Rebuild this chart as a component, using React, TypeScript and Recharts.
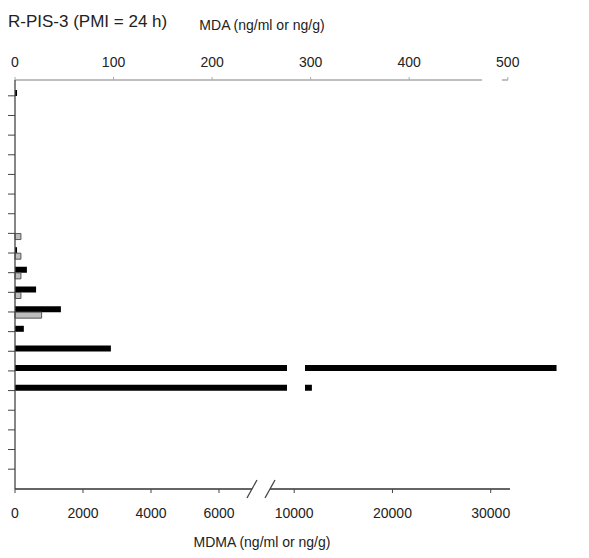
import { BarChart, Bar, XAxis, YAxis } from "recharts"

// samples, top to bottom (no labels shown on the axis)
const SAMPLES = ["1", "2", "3", "4", "5", "6", "7", "8", "9", "10", "11", "12", "13", "14", "15", "16", "17", "18", "19", "20"]
// MDMA (ng/ml or ng/g), bottom axis
const MDMA = [60, 0, 0, 0, 0, 0, 0, 0, 60, 350, 620, 1350, 260, 2820, 36700, 11800, 0, 0, 0, 0]
// MDA (ng/ml or ng/g), top axis
const MDA = [0, 0, 0, 0, 0, 0, 0, 6, 6, 6, 6, 27, 0, 0, 0, 0, 0, 0, 0, 0]

const MDMA_TICKS = [0, 2000, 4000, 6000, 10000, 20000, 30000]
const MDA_TICKS = [0, 100, 200, 300, 400, 500]

// broken MDMA axis: linear up to CUT_LO, then compressed from CUT_HI on
const CUT_LO = 8000
const CUT_HI = 11100
const GAP = 530
const K = 0.289
const toAxis = (v: number) => (v <= CUT_LO ? v : CUT_LO + GAP + (v - CUT_HI) * K)
const BREAK_MARKS = [6970, 7500]

const BOTTOM_MAX = 16030
const TOP_MAX = 553
const TICK_SIZE = 4
const TICK_MARGIN = 15

const data = SAMPLES.map((sample, i) => {
    const v = MDMA[i]
    return {
        sample,
        mdmaLow: Math.min(v, CUT_LO),
        mdmaGap: v > CUT_LO ? GAP : 0,
        mdmaHigh: v > CUT_LO ? (v - CUT_HI) * K : 0,
        mda: MDA[i],
    }
})

const bottomTicks = [...MDMA_TICKS.map(toAxis), ...BREAK_MARKS]

const BottomTick = (props: any) => {
    const { x, y, payload } = props
    const axisY = y - TICK_SIZE - TICK_MARGIN
    if (BREAK_MARKS.includes(payload.value)) {
        return <line x1={x - 5} y1={axisY + 9} x2={x + 5} y2={axisY - 9} stroke="#444" strokeWidth={1.3} />
    }
    const idx = MDMA_TICKS.findIndex((t) => toAxis(t) === payload.value)
    return (
        <g>
            <line x1={x} y1={axisY} x2={x} y2={axisY + TICK_SIZE} stroke="#444" />
            <text x={x} y={y} dy="0.71em" textAnchor="middle" fontSize={14} fill="#222">
                {MDMA_TICKS[idx]}
            </text>
        </g>
    )
}

export default function App() {
    return (
        <div style={{ position: "relative", width: 575, height: 545, fontFamily: "'Liberation Sans', Arial, sans-serif", color: "#222" }}>
            <div style={{ position: "absolute", left: 0, top: 4, fontSize: 17, lineHeight: "20px", whiteSpace: "nowrap" }}>
                R-PIS-3 (PMI = 24 h)
            </div>
            <div style={{ position: "absolute", left: 104, width: 300, top: 9, fontSize: 14, lineHeight: "16px", textAlign: "center" }}>
                MDA (ng/ml or ng/g)
            </div>
            <BarChart
                width={575}
                height={526}
                data={data}
                layout="vertical"
                barGap={0}
                margin={{ top: 32, right: 23, bottom: 10, left: 0 }}
            >
                <XAxis
                    xAxisId="top"
                    type="number"
                    orientation="top"
                    domain={[0, TOP_MAX]}
                    ticks={MDA_TICKS}
                    interval={0}
                    height={40}
                    tickSize={3}
                    tickMargin={10}
                    tick={{ fontSize: 14, fill: "#222" }}
                    tickLine={{ stroke: "#aaa" }}
                    axisLine={{ stroke: "#aaa", strokeWidth: 1.3, strokeDasharray: "467 20 6 200" }}
                />
                <XAxis
                    xAxisId="bottom"
                    type="number"
                    orientation="bottom"
                    domain={[0, BOTTOM_MAX]}
                    ticks={bottomTicks}
                    interval={0}
                    height={35}
                    tickSize={TICK_SIZE}
                    tickMargin={TICK_MARGIN}
                    tickLine={false}
                    tick={<BottomTick />}
                    axisLine={{ stroke: "#333", strokeWidth: 1.3, strokeDasharray: "237 18 240 200" }}
                />
                <YAxis
                    type="category"
                    dataKey="sample"
                    width={7}
                    interval={0}
                    tickSize={7}
                    padding={{ top: 6, bottom: 10 }}
                    tickFormatter={() => ""}
                    tickLine={{ stroke: "#444" }}
                    axisLine={{ stroke: "#444", strokeWidth: 1.3 }}
                />
                <Bar xAxisId="bottom" dataKey="mdmaLow" stackId="mdma" fill="#000" barSize={6} isAnimationActive={false} />
                <Bar xAxisId="bottom" dataKey="mdmaGap" stackId="mdma" fill="transparent" barSize={6} isAnimationActive={false} />
                <Bar xAxisId="bottom" dataKey="mdmaHigh" stackId="mdma" fill="#000" barSize={6} isAnimationActive={false} />
                <Bar xAxisId="top" dataKey="mda" fill="#bdbdbd" stroke="#555" strokeWidth={1} barSize={6} isAnimationActive={false} />
            </BarChart>
            <div style={{ position: "absolute", left: 104, width: 300, top: 526, fontSize: 14, lineHeight: "16px", textAlign: "center" }}>
                MDMA (ng/ml or ng/g)
            </div>
        </div>
    )
}
